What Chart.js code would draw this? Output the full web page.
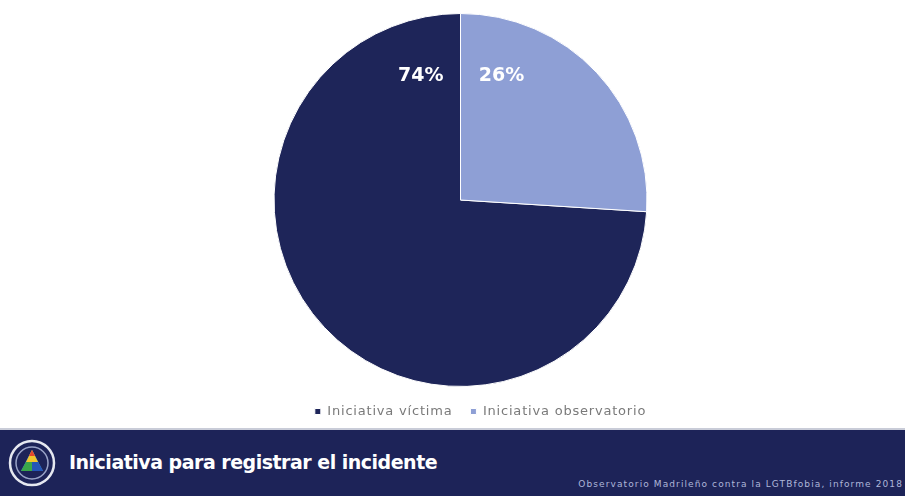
<!DOCTYPE html>
<html>
<head>
<meta charset="utf-8">
<script src="https://cdn.jsdelivr.net/npm/chart.js@4"></script>
<style>
  html, body { margin: 0; padding: 0; background: #fff; }
  #page { position: relative; width: 905px; height: 496px; overflow: hidden; }
  #chartbox { position: absolute; left: 0; top: 0; width: 905px; height: 428px; }
  #footer { position: absolute; left: 0; top: 428px; width: 905px; height: 68px;
            background: #1d2358; border-top: 2px solid #c9ccd8; box-sizing: border-box; }
  #title { position: absolute; left: 69px; top: 21px; color: #fff;
           font: bold 19px "DejaVu Sans", sans-serif; letter-spacing: -0.5px; }
  #source { position: absolute; right: 2px; top: 49px; color: #aeb6d8;
            font: 9px "DejaVu Sans", sans-serif; letter-spacing: 1.1px; white-space: nowrap; }
  #logo { position: absolute; left: 7px; top: 8px; }
</style>
</head>
<body>
<div id="page">
  <div id="chartbox"><canvas id="pie"></canvas></div>
  <div id="footer">
    <svg id="logo" width="50" height="50" viewBox="0 0 50 50">
      <circle cx="25" cy="25" r="22" fill="none" stroke="#e6e8f0" stroke-width="2.5"/>
      <circle cx="25" cy="25" r="16" fill="none" stroke="#9aa3c8" stroke-width="1.5"/>
      <polygon points="25,12 14,33 36,33" fill="#3b8fd6"/>
      <polygon points="25,12 19,24 31,24" fill="#f0c62c"/>
      <polygon points="19,24 14,33 25,33 25,24" fill="#3aa74a"/>
      <polygon points="31,24 36,33 25,33 25,24" fill="#2456b8"/>
      <polygon points="22,18 25,12 28,18" fill="#e2462f"/>
    </svg>
    <div id="title">Iniciativa para registrar el incidente</div>
    <div id="source">Observatorio Madrileño contra la LGTBfobia, informe 2018</div>
  </div>
</div>
<script>
const categories = ["Iniciativa víctima", "Iniciativa observatorio"];
const values = [74, 26];
const sliceColors = ["#1e2559", "#8e9fd5"];

// wider legend text, closer to the original's geometric font
const spacing = {
  id: "spacing",
  beforeUpdate(chart) { chart.ctx.letterSpacing = "0.8px"; },
  beforeDraw(chart) { chart.ctx.letterSpacing = "0.8px"; },
  afterLayout(chart) {
    // legend sits a bit right of the pie in the original
    chart.legend.left += 20;
    chart.legend.right += 20;
  }
};

// labels sit just either side of the vertical boundary at the top
const topLabels = {
  id: "topLabels",
  afterDatasetsDraw(chart) {
    const ctx = chart.ctx;
    const arcs = chart.getDatasetMeta(0).data;
    ctx.save();
    ctx.letterSpacing = "0px";
    ctx.fillStyle = "#ffffff";
    ctx.font = "bold 19px 'DejaVu Sans', sans-serif";
    ctx.textAlign = "center";
    ctx.textBaseline = "middle";
    arcs.forEach((arc, i) => {
      const r = arc.outerRadius * 0.7;
      const a = i === 0 ? arc.endAngle - 0.31 : arc.startAngle + 0.32;
      ctx.fillText(values[i] + "%", arc.x + r * Math.cos(a), arc.y + r * Math.sin(a));
    });
    ctx.restore();
  }
};

new Chart(document.getElementById("pie"), {
  type: "pie",
  data: {
    labels: categories,
    datasets: [{
      data: values,
      backgroundColor: sliceColors,
      borderColor: "#ffffff",
      borderWidth: 1
    }]
  },
  options: {
    responsive: true,
    maintainAspectRatio: false,
    animation: false,
    rotation: 93.6,
    layout: { padding: { top: 13, bottom: 0, left: 16 } },
    plugins: {
      legend: {
        position: "bottom",
        labels: {
          boxWidth: 6,
          boxHeight: 6,
          padding: 18,
          color: "#7a7a7a",
          font: { size: 13, family: "'DejaVu Sans', sans-serif" }
        }
      },
      tooltip: { enabled: false }
    }
  },
  plugins: [spacing, topLabels]
});
</script>
</body>
</html>
